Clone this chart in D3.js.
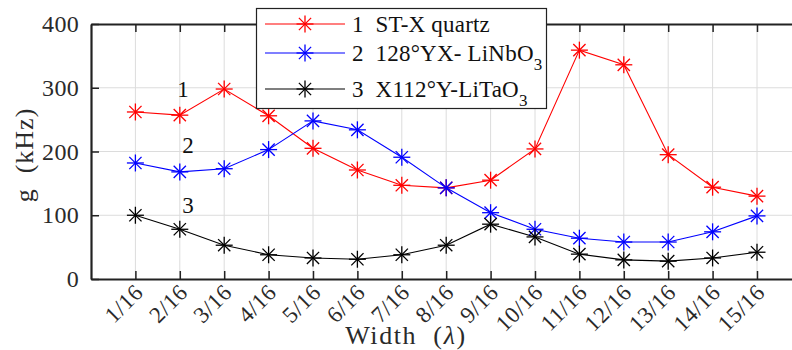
<!DOCTYPE html>
<html>
<head>
<meta charset="utf-8">
<script src="https://cdn.jsdelivr.net/npm/d3@7"></script>
<style>
  body { margin: 0; background: #fff; }
</style>
</head>
<body>
<svg id="chart" width="792" height="350"></svg>
<script>
// widths, in units of wavelength
var categories = ['1/16', '2/16', '3/16', '4/16', '5/16', '6/16', '7/16', '8/16',
  '9/16', '10/16', '11/16', '12/16', '13/16', '14/16', '15/16'];

var quartz = [262, 257, 298, 256, 205, 171, 147, 143, 155, 204, 359, 336, 195, 144, 130];
var linbo3 = [182, 168, 173, 203, 248, 234, 191, 143, 104, 78, 64, 58, 58, 74, 99];
var litao3 = [100, 78, 53, 38, 33, 31, 38, 53, 86, 66, 39, 30, 28, 33, 42];

var yTicks = [0, 100, 200, 300, 400];

var series = [
  { name: '1  ST-X quartz', sub: null, values: quartz, color: '#ff0000', label: '1' },
  { name: '2  128°YX- LiNbO', sub: '3', values: linbo3, color: '#0000ff', label: '2' },
  { name: '3  X112°Y-LiTaO', sub: '3', values: litao3, color: '#000000', label: '3' }
];

var FONT = '"Liberation Serif", serif';
var svg = d3.select('#chart');
var mLeft = 91, mTop = 24, mBottom = 279;

var x = d3.scaleLinear().domain([0, 16]).range([mLeft, mLeft + 16 * 44.4]);
var y = d3.scaleLinear().domain([0, 400]).range([mBottom, mTop]);

var plot = svg.append('g');

// grid
plot.selectAll('line.gx').data(categories).enter().append('line')
  .attr('x1', function(d, i) { return x(i + 1); })
  .attr('x2', function(d, i) { return x(i + 1); })
  .attr('y1', mTop).attr('y2', mBottom)
  .attr('stroke', '#dcdcdc').attr('stroke-width', 1);
plot.selectAll('line.gy').data(yTicks.slice(1, -1)).enter().append('line')
  .attr('x1', mLeft).attr('x2', 792)
  .attr('y1', function(d) { return y(d); })
  .attr('y2', function(d) { return y(d); })
  .attr('stroke', '#dcdcdc').attr('stroke-width', 1);

// axes
var xAxis = d3.axisBottom(x).tickValues(d3.range(1, 16))
  .tickFormat(function(d) { return categories[d - 1]; })
  .tickSizeInner(-8).tickSizeOuter(0);
var gx = svg.append('g').attr('transform', 'translate(0,' + mBottom + ')').call(xAxis);
gx.attr('font-family', null);
gx.selectAll('text')
  .attr('font-size', 23)
  .attr('letter-spacing', 0.6)
  .attr('text-anchor', 'end')
  .attr('y', null).attr('dy', '0.35em')
  .attr('transform', 'translate(3,9) rotate(-45)');

var xTop = d3.axisTop(x).tickValues(d3.range(1, 16)).tickFormat('')
  .tickSizeInner(-8).tickSizeOuter(0);
svg.append('g').attr('transform', 'translate(0,' + mTop + ')').call(xTop);

var yAxis = d3.axisLeft(y).tickValues(yTicks).tickSizeInner(-8).tickSizeOuter(0).tickPadding(12);
var gy = svg.append('g').attr('transform', 'translate(' + mLeft + ',0)').call(yAxis);
gy.attr('font-family', null);
gy.selectAll('text').attr('font-size', 24).attr('letter-spacing', 0.3);

svg.selectAll('.domain').attr('stroke', '#222').attr('stroke-width', 2.2);
svg.selectAll('.tick line').attr('stroke', '#222').attr('stroke-width', 1.5);
svg.selectAll('.tick text').attr('fill', '#2a2a2a');

// axis labels
svg.append('text')
  .attr('transform', 'translate(33,155) rotate(-90)')
  .attr('text-anchor', 'middle').attr('font-size', 26)
  .attr('letter-spacing', 1).attr('fill', '#2a2a2a')
  .attr('xml:space', 'preserve')
  .text('g  (kHz)');
svg.append('text')
  .attr('x', 406).attr('y', 344)
  .attr('text-anchor', 'middle').attr('font-size', 26)
  .attr('letter-spacing', 1.6).attr('fill', '#2a2a2a')
  .attr('xml:space', 'preserve')
  .html('Width  (<tspan font-style="italic">λ</tspan>)');

// asterisk marker
function star(g, cx, cy, r, color) {
  var a = r * 0.72;
  var segs = [[0, -r, 0, r], [-r, 0, r, 0], [-a, -a, a, a], [-a, a, a, -a]];
  segs.forEach(function(s) {
    g.append('line')
      .attr('x1', cx + s[0]).attr('y1', cy + s[1])
      .attr('x2', cx + s[2]).attr('y2', cy + s[3])
      .attr('stroke', color).attr('stroke-width', 1.3);
  });
}

var line = d3.line()
  .x(function(d, i) { return x(i + 1); })
  .y(function(d) { return y(d); });

series.forEach(function(s) {
  var g = plot.append('g');
  g.append('path').datum(s.values)
    .attr('d', line).attr('fill', 'none')
    .attr('stroke', s.color).attr('stroke-width', 1.1);
  s.values.forEach(function(v, i) { star(g, x(i + 1), y(v), 8.5, s.color); });
});

// curve labels
var labelPos = [[183, 97], [188, 153], [188, 213]];
series.forEach(function(s, i) {
  svg.append('text').attr('x', labelPos[i][0]).attr('y', labelPos[i][1])
    .attr('text-anchor', 'middle').attr('font-size', 23).attr('fill', '#111')
    .text(s.label);
});

// legend
var lg = svg.append('g');
lg.append('rect').attr('x', 256.5).attr('y', 8.5).attr('width', 290).attr('height', 100)
  .attr('fill', '#fff').attr('stroke', '#222').attr('stroke-width', 1.2);
var rows = [24, 53, 89];
series.forEach(function(s, i) {
  var ry = rows[i];
  lg.append('line').attr('x1', 265).attr('x2', 345).attr('y1', ry).attr('y2', ry)
    .attr('stroke', s.color).attr('stroke-width', 1.1);
  star(lg, 305, ry, 8.5, s.color);
  var t = lg.append('text').attr('x', 352).attr('y', ry + 8).attr('font-size', 23)
    .attr('letter-spacing', 0.2).attr('fill', '#111').attr('xml:space', 'preserve')
    .text(s.name);
  if (s.sub) {
    t.append('tspan').attr('dy', 9).attr('font-size', 17).text(s.sub);
  }
});

// serif face on every text
svg.selectAll('text').attr('font-family', FONT).style('font-family', FONT);
</script>
</body>
</html>
